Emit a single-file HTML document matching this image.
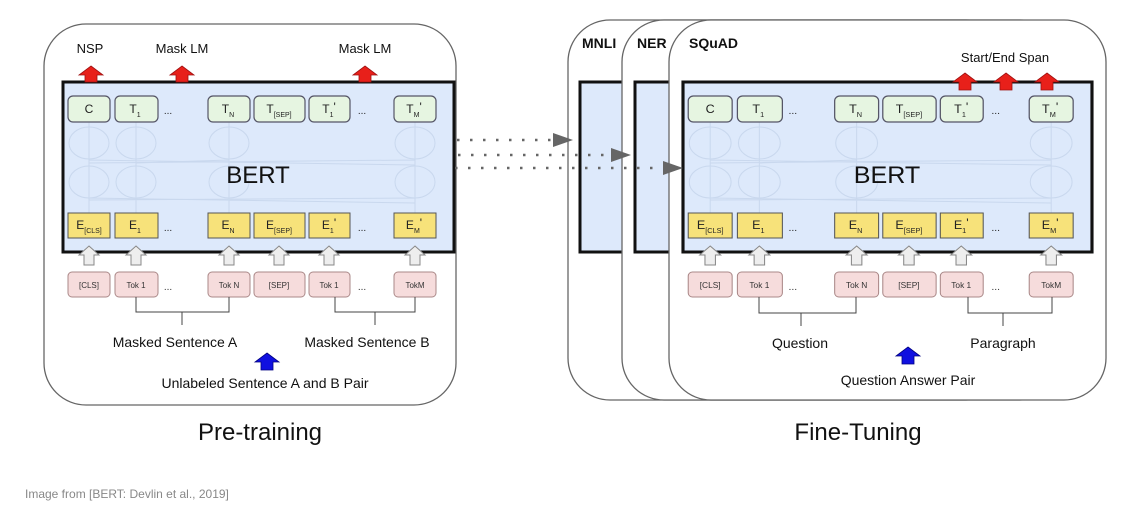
<!DOCTYPE html>
<html><head><meta charset="utf-8"><style>
html,body{margin:0;padding:0;background:#fff;}
svg{display:block;font-family:"Liberation Sans",Arial,sans-serif;}
</style></head><body>
<svg width="1130" height="514" viewBox="0 0 1130 514" xmlns="http://www.w3.org/2000/svg">
<defs>
<g id="stack">
  <rect x="63" y="82" width="391" height="170" fill="#dde9fb" stroke="#111" stroke-width="3"/>
  <g fill="none" stroke="#c9d8ee" stroke-width="1">
    <ellipse cx="89" cy="143" rx="20" ry="16"/><ellipse cx="136" cy="143" rx="20" ry="16"/><ellipse cx="229" cy="143" rx="20" ry="16"/><ellipse cx="415" cy="143" rx="20" ry="16"/>
    <ellipse cx="89" cy="182" rx="20" ry="16"/><ellipse cx="136" cy="182" rx="20" ry="16"/><ellipse cx="229" cy="182" rx="20" ry="16"/><ellipse cx="415" cy="182" rx="20" ry="16"/>
    <path d="M89 163 L415 160 M89 160 L415 165 M136 163 L229 160 M89 200 L415 198 M89 198 L415 203 M89 122 V213 M136 122 V213 M229 122 V213 M415 122 V213"/>
  </g>
  <text x="258" y="183" font-size="24" text-anchor="middle" fill="#111">BERT</text>
  <g stroke="#556" stroke-width="1.2" fill="#e6f5e1">
    <rect x="68" y="96" width="42" height="26" rx="5"/><rect x="115" y="96" width="43" height="26" rx="5"/>
    <rect x="208" y="96" width="42" height="26" rx="5"/><rect x="254" y="96" width="51" height="26" rx="5"/>
    <rect x="309" y="96" width="41" height="26" rx="5"/><rect x="394" y="96" width="42" height="26" rx="5"/>
  </g>
  <g font-size="12" fill="#222" text-anchor="middle">
    <text x="89" y="113">C</text>
    <text x="135" y="113">T<tspan font-size="7" dy="4">1</tspan></text>
    <text x="228" y="113">T<tspan font-size="7" dy="4">N</tspan></text>
    <text x="279" y="113">T<tspan font-size="7" dy="4">[SEP]</tspan></text>
    <text x="329" y="113">T<tspan font-size="7" dy="4">1</tspan><tspan dy="-6">'</tspan></text>
    <text x="414" y="113">T<tspan font-size="7" dy="4">M</tspan><tspan dy="-6">'</tspan></text>
    <text x="168" y="114" font-size="10">...</text><text x="362" y="114" font-size="10">...</text>
  </g>
  <g stroke="#555" stroke-width="1" fill="#f7e27a">
    <rect x="68" y="213" width="42" height="25"/><rect x="115" y="213" width="43" height="25"/>
    <rect x="208" y="213" width="42" height="25"/><rect x="254" y="213" width="51" height="25"/>
    <rect x="309" y="213" width="41" height="25"/><rect x="394" y="213" width="42" height="25"/>
  </g>
  <g font-size="12" fill="#222" text-anchor="middle">
    <text x="89" y="229">E<tspan font-size="7" dy="4">[CLS]</tspan></text>
    <text x="135" y="229">E<tspan font-size="7" dy="4">1</tspan></text>
    <text x="228" y="229">E<tspan font-size="7" dy="4">N</tspan></text>
    <text x="279" y="229">E<tspan font-size="7" dy="4">[SEP]</tspan></text>
    <text x="329" y="229">E<tspan font-size="7" dy="4">1</tspan><tspan dy="-6">'</tspan></text>
    <text x="414" y="229">E<tspan font-size="7" dy="4">M</tspan><tspan dy="-6">'</tspan></text>
    <text x="168" y="231" font-size="10">...</text><text x="362" y="231" font-size="10">...</text>
  </g>
  <g fill="#eee" stroke="#888" stroke-width="1">
    <path d="M89 246 l10 9 h-5 v10 h-10 v-10 h-5z"/><path d="M136 246 l10 9 h-5 v10 h-10 v-10 h-5z"/>
    <path d="M229 246 l10 9 h-5 v10 h-10 v-10 h-5z"/><path d="M279 246 l10 9 h-5 v10 h-10 v-10 h-5z"/>
    <path d="M329 246 l10 9 h-5 v10 h-10 v-10 h-5z"/><path d="M415 246 l10 9 h-5 v10 h-10 v-10 h-5z"/>
  </g>
  <g stroke="#a88" stroke-width="1" fill="#f6dcdc">
    <rect x="68" y="272" width="42" height="25" rx="4"/><rect x="115" y="272" width="43" height="25" rx="4"/>
    <rect x="208" y="272" width="42" height="25" rx="4"/><rect x="254" y="272" width="51" height="25" rx="4"/>
    <rect x="309" y="272" width="41" height="25" rx="4"/><rect x="394" y="272" width="42" height="25" rx="4"/>
  </g>
  <g font-size="8" fill="#333" text-anchor="middle">
    <text x="89" y="288">[CLS]</text><text x="136" y="288">Tok 1</text><text x="229" y="288">Tok N</text>
    <text x="279" y="288">[SEP]</text><text x="329" y="288">Tok 1</text><text x="415" y="288">TokM</text>
    <text x="168" y="290" font-size="10">...</text><text x="362" y="290" font-size="10">...</text>
  </g>
</g>
</defs>

<!-- left panel -->
<rect x="44" y="24" width="412" height="381" rx="42" fill="#fff" stroke="#666" stroke-width="1.3"/>
<use href="#stack"/>
<g font-size="13" fill="#111" text-anchor="middle">
  <text x="90" y="53">NSP</text><text x="182" y="53">Mask LM</text><text x="365" y="53">Mask LM</text>
</g>
<g fill="#e8201a" stroke="#a01010" stroke-width="0.8">
  <path d="M91 66 l12 9 h-6 v7 h-12 v-7 h-6z"/><path d="M182 66 l12 9 h-6 v7 h-12 v-7 h-6z"/><path d="M365 66 l12 9 h-6 v7 h-12 v-7 h-6z"/>
</g>
<g stroke="#444" stroke-width="1" fill="none">
  <path d="M136 297 V312 H229 V297 M182 312 V325"/><path d="M335 297 V312 H415 V297 M375 312 V325"/>
</g>
<g font-size="14" fill="#111" text-anchor="middle">
  <text x="175" y="347">Masked Sentence A</text><text x="367" y="347">Masked Sentence B</text>
  <text x="265" y="388">Unlabeled Sentence A and B Pair</text>
</g>
<path d="M267 353 l12 9 h-6 v8 h-12 v-8 h-6z" fill="#1010e0" stroke="#000080" stroke-width="0.8"/>

<!-- right panels -->
<rect x="568" y="20" width="440" height="380" rx="42" fill="#fff" stroke="#666" stroke-width="1.3"/>
<rect x="580" y="82" width="60" height="170" fill="#dde9fb" stroke="#111" stroke-width="3"/>
<rect x="622" y="20" width="440" height="380" rx="42" fill="#fff" stroke="#666" stroke-width="1.3"/>
<rect x="635" y="82" width="60" height="170" fill="#dde9fb" stroke="#111" stroke-width="3"/>
<rect x="669" y="20" width="437" height="380" rx="42" fill="#fff" stroke="#666" stroke-width="1.3"/>
<use href="#stack" transform="translate(683,0) scale(1.046,1) translate(-63,0)"/>
<g font-size="14" font-weight="bold" fill="#111">
  <text x="582" y="48">MNLI</text><text x="637" y="48">NER</text><text x="689" y="48">SQuAD</text>
</g>
<text x="1005" y="62" font-size="13" text-anchor="middle" fill="#111">Start/End Span</text>
<g fill="#e8201a" stroke="#a01010" stroke-width="0.8">
  <path d="M965 73 l12 9 h-6 v8 h-12 v-8 h-6z"/><path d="M1006 73 l12 9 h-6 v8 h-12 v-8 h-6z"/><path d="M1047 73 l12 9 h-6 v8 h-12 v-8 h-6z"/>
</g>
<g stroke="#444" stroke-width="1" fill="none">
  <path d="M759 297 V313 H856 V297 M801 313 V326"/><path d="M968 297 V313 H1052 V297 M1003 313 V326"/>
</g>
<g font-size="14" fill="#111" text-anchor="middle">
  <text x="800" y="348">Question</text><text x="1003" y="348">Paragraph</text>
  <text x="908" y="385">Question Answer Pair</text>
</g>
<path d="M908 347 l12 9 h-6 v8 h-12 v-8 h-6z" fill="#1010e0" stroke="#000080" stroke-width="0.8"/>

<!-- dotted arrows -->
<g stroke="#666" stroke-width="2.5" stroke-dasharray="2.5 10.5" fill="none">
  <line x1="457" y1="140" x2="556" y2="140"/><line x1="458" y1="155" x2="612" y2="155"/><line x1="455" y1="168" x2="664" y2="168"/>
</g>
<g fill="#666">
  <path d="M553 133 L573 140 L553 147z"/><path d="M611 148 L631 155 L611 162z"/><path d="M663 161 L683 168 L663 175z"/>
</g>

<text x="260" y="440" font-size="24" text-anchor="middle" fill="#111">Pre-training</text>
<text x="858" y="440" font-size="24" text-anchor="middle" fill="#111">Fine-Tuning</text>
<text x="25" y="498" font-size="12" fill="#888">Image from [BERT: Devlin et al., 2019]</text>
</svg>
</body></html>
